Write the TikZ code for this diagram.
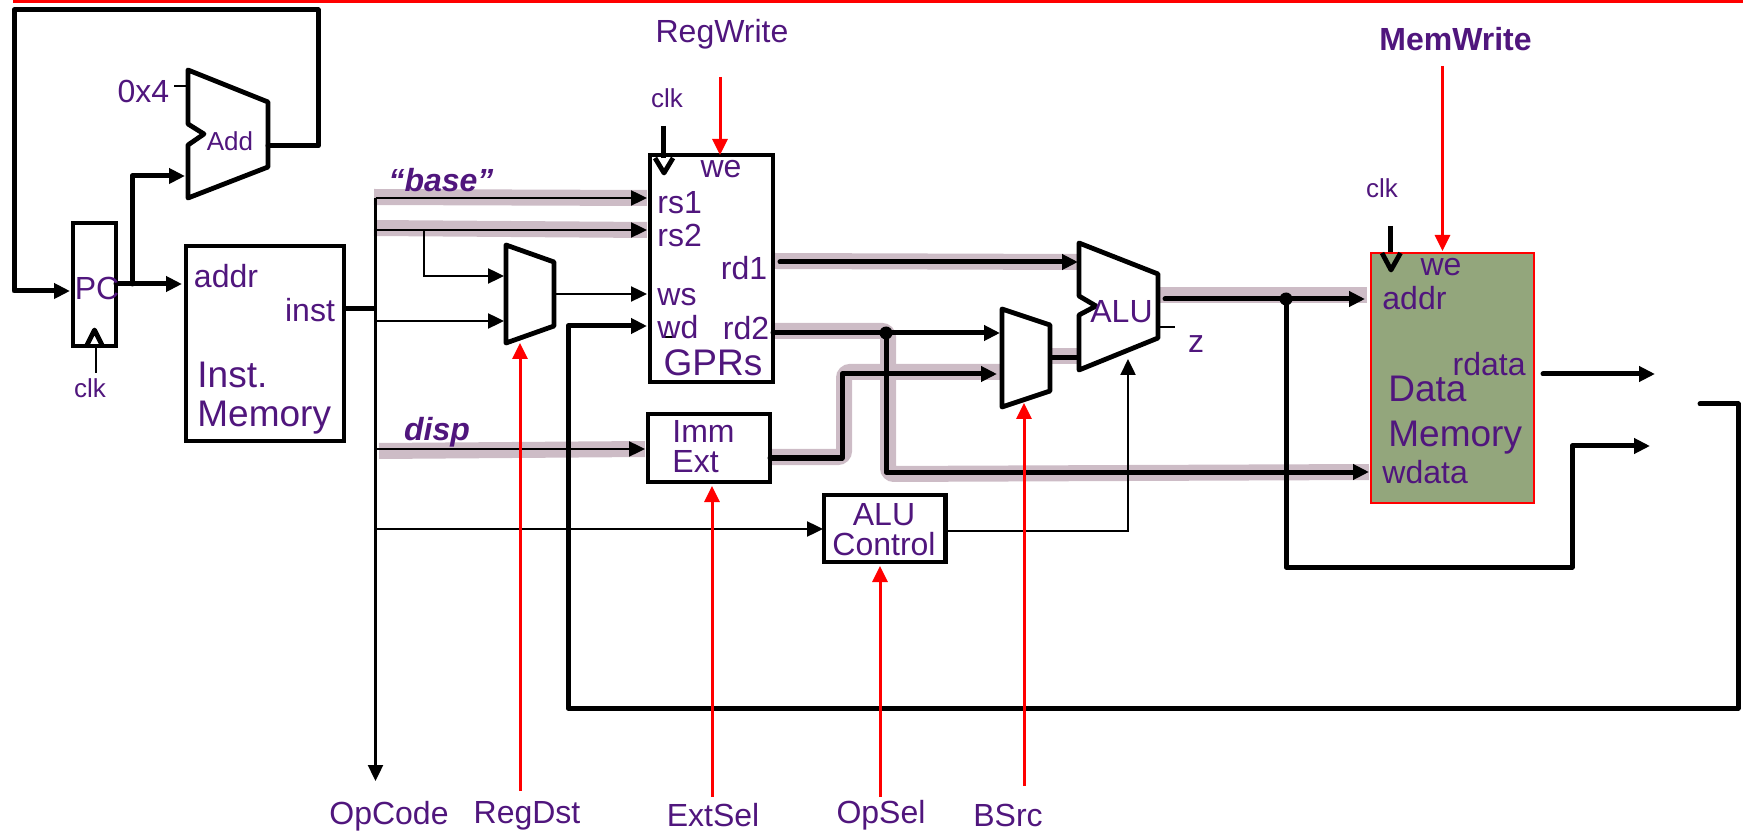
\documentclass[tikz,border=0pt]{standalone}
\usepackage{fontspec}
\setmainfont{Liberation Sans}
\usetikzlibrary{arrows.meta}
\definecolor{labelpurple}{RGB}{80,22,125}
\definecolor{busshade}{RGB}{205,188,198}
\definecolor{memgreen}{RGB}{147,166,124}
\begin{document}
\begin{tikzpicture}[
    x=0.5pt,
    y=-0.5pt,
    >={Triangle[length=8pt,width=7.5pt]},
    block/.style={
        draw=black,
        line width=2.4pt,
        rectangle,
        outer sep=0pt,
        inner sep=0pt
    },
    unit/.style={
        draw=black,
        line width=2.4pt,
        line join=round,
        fill=white
    },
    wire/.style={
        draw=black,
        line width=2.5pt,
        line join=round,
        line cap=round
    },
    thinwire/.style={
        draw=black,
        line width=1.2pt
    },
    ctrl/.style={
        draw=red,
        line width=1.5pt
    },
    shade/.style={
        draw=busshade,
        line width=8pt,
        rounded corners=3pt
    },
    joint/.style={
        circle,
        fill=black,
        minimum size=6.5pt,
        inner sep=0pt
    },
    lbl/.style={
        text=labelpurple,
        inner sep=0pt,
        font=\fontsize{16}{15}\selectfont
    },
    biglbl/.style={
        lbl,
        font=\fontsize{18.5}{22.3}\selectfont
    },
    smalllbl/.style={
        lbl,
        font=\fontsize{13}{15}\selectfont
    },
    buslbl/.style={
        lbl,
        font=\fontsize{16}{15}\selectfont\bfseries\itshape
    }
]
\useasboundingbox (0,0) rectangle (1743,833);

% Ports
\coordinate (redL) at (13,1);
\coordinate (redR) at (1743,1);
\coordinate (pcin) at (70,291);
\coordinate (fbA) at (14,291);
\coordinate (fbB) at (14,10);
\coordinate (fbC) at (318,10);
\coordinate (fbD) at (318,146);
\coordinate (addout) at (268,146);
\coordinate (pcout) at (116,284);
\coordinate (pcbr) at (132,284);
\coordinate (pcup) at (132,176);
\coordinate (addin) at (185,176);
\coordinate (imemin) at (182,284);
\coordinate (instout) at (344,309);
\coordinate (businst) at (375.5,309);
\coordinate (bustop) at (375.5,198);
\coordinate (opcode) at (375.5,781);
\coordinate (busrs) at (375.5,230);
\coordinate (busb) at (375.5,321);
\coordinate (busdisp) at (375.5,449);
\coordinate (busctl) at (375.5,529);
\coordinate (rsone) at (647,198);
\coordinate (rstwo) at (647,230);
\coordinate (rsbr) at (424,230);
\coordinate (rsdn) at (424,276);
\coordinate (muxa) at (504,276);
\coordinate (muxb) at (504,321);
\coordinate (muxout) at (554,294);
\coordinate (ws) at (647,294);
\coordinate (wd) at (647,326);
\coordinate (wdA) at (568,326);
\coordinate (wdB) at (568,708);
\coordinate (wdC) at (1738,708);
\coordinate (wdD) at (1738,404);
\coordinate (wdE) at (1700,404);
\coordinate (rdone) at (780,262);
\coordinate (alua) at (1078,262);
\coordinate (rdtwo) at (773,333);
\coordinate (brA) at (886,333);
\coordinate (brB) at (1000,333);
\coordinate (brC) at (886,472);
\coordinate (wdata) at (1369,472);
\coordinate (immout) at (770,458);
\coordinate (immA) at (842,458);
\coordinate (immB) at (842,374);
\coordinate (brD) at (997,374);
\coordinate (disp) at (645,449);
\coordinate (ctlin) at (823,529);
\coordinate (ctlout) at (945,531);
\coordinate (ctlA) at (1128,531);
\coordinate (ctlB) at (1128,359);
\coordinate (bout) at (1050,358);
\coordinate (alub) at (1079,358);
\coordinate (aluout) at (1165,299);
\coordinate (addr) at (1365,299);
\coordinate (jmp) at (1286,299);
\coordinate (jmpA) at (1286,567);
\coordinate (jmpB) at (1572,567);
\coordinate (jmpC) at (1572,446);
\coordinate (jmpD) at (1650,446);
\coordinate (rdata) at (1543,374);
\coordinate (rdataD) at (1655,374);

% Bus shading
\draw[shade] (374,197) -- (rsone);
\draw[shade] (374,228) -- (rstwo);
\draw[shade] (379,451) -- (disp);
\draw[shade] (775,261) -- (alua);
\draw[shade] (773,331) -- (888,331) -- (888,474) -- (wdata);
\draw[shade] (770,457) -- (844,457) -- (844,372) -- (1000,372);
\draw[shade] (1050,356) -- (1080,356);
\draw[shade] (1158,295) -- (1367,295);

% Blocks
\node[block, minimum width=21.5pt, minimum height=61.5pt] (pc) at (94.5,284.5) {};
\node[block, minimum width=79pt, minimum height=97.5pt] (imem) at (265,343.5) {};
\node[block, minimum width=61.5pt, minimum height=113.5pt] (gpr) at (711.5,268.5) {};
\node[block, minimum width=61pt, minimum height=34pt] (immext) at (709,448) {};
\node[block, minimum width=60.75pt, minimum height=33.5pt] (aluctl) at (884.75,528.5) {};
\node[rectangle, draw=red, line width=1pt, fill=memgreen, minimum width=81.3pt, minimum height=125.2pt, inner sep=0pt] (dmem) at (1452.3,377.8) {};

% Datapath units
\draw[unit] (188,70) -- (268,102) -- (268,167) -- (188,198) -- (188,145) -- (204,134) -- (188,124) -- cycle;
\draw[unit] (506,245) -- (554,262) -- (554,326) -- (506,343) -- cycle;
\draw[unit] (1002,309) -- (1050,325) -- (1050,391) -- (1002,407) -- cycle;
\draw[unit] (1079,243) -- (1158,274) -- (1158,338) -- (1079,370) -- (1079,315) -- (1096,306) -- (1079,296) -- cycle;

% Clock marks
\draw[unit, fill=none] (86,347) -- (94.5,330) -- (103,347);
\draw[unit, fill=none] (655,158) -- (664,173) -- (673,158);
\draw[unit, fill=none] (1382,253) -- (1391,270) -- (1400.5,253);
\coordinate (clkPC) at (96,347);
\coordinate (clkPCb) at (96,373);
\coordinate (clkG) at (663.5,126);
\coordinate (clkGb) at (663.5,158);
\coordinate (clkM) at (1390.5,226);
\coordinate (clkMb) at (1390.5,252);
\draw[thinwire] (clkPC) -- (clkPCb);
\draw[wire, line cap=butt] (clkG) -- (clkGb);
\draw[wire, line cap=butt] (clkM) -- (clkMb);

% Wires
\draw[wire, ->] (addout) -- (fbD) -- (fbC) -- (fbB) -- (fbA) -- (pcin);
\draw[wire, ->] (pcout) -- (imemin);
\draw[wire, ->] (pcbr) -- (pcup) -- (addin);
\draw[wire, line cap=butt] (instout) -- (businst);
\draw[thinwire, ->] (bustop) -- (opcode);
\draw[thinwire, ->] (bustop) -- (rsone);
\draw[thinwire, ->] (busrs) -- (rstwo);
\draw[thinwire, ->] (rsbr) -- (rsdn) -- (muxa);
\draw[thinwire, ->] (busb) -- (muxb);
\draw[thinwire, ->] (muxout) -- (ws);
\draw[thinwire, ->] (busdisp) -- (disp);
\draw[thinwire, ->] (busctl) -- (ctlin);
\draw[thinwire, ->] (ctlout) -- (ctlA) -- (ctlB);
\draw[wire, ->] (wdE) -- (wdD) -- (wdC) -- (wdB) -- (wdA) -- (wd);
\draw[wire, ->] (rdone) -- (alua);
\draw[wire, ->] (rdtwo) -- (brB);
\draw[wire, ->] (brA) -- (brC) -- (wdata);
\draw[wire, ->] (immout) -- (immA) -- (immB) -- (brD);
\draw[wire, line cap=butt] (bout) -- (alub);
\draw[wire, ->] (aluout) -- (addr);
\draw[wire, ->] (jmp) -- (jmpA) -- (jmpB) -- (jmpC) -- (jmpD);
\draw[wire, ->] (rdata) -- (rdataD);
\node[joint] (jointB) at (brA) {};
\node[joint] (jointJ) at (jmp) {};

% Stubs
\coordinate (fourA) at (174,86);
\coordinate (fourB) at (188,86);
\coordinate (zA) at (1160,327);
\coordinate (zB) at (1175,327);
\coordinate (wdtA) at (662,337);
\coordinate (wdtB) at (675,337);
\draw[thinwire] (fourA) -- (fourB);
\draw[thinwire] (zA) -- (zB);
\draw[thinwire] (wdtA) -- (wdtB);

% Control lines
\draw[ctrl, line width=2pt] (redL) -- (redR);
\coordinate (regwriteT) at (720,77);
\coordinate (regwriteB) at (720,155);
\coordinate (memwriteT) at (1442.5,66);
\coordinate (memwriteB) at (1442.5,251);
\coordinate (regdstT) at (520,343);
\coordinate (regdstB) at (520,791);
\coordinate (extselT) at (712,486);
\coordinate (extselB) at (712,797);
\coordinate (opselT) at (880,566);
\coordinate (opselB) at (880,797);
\coordinate (bsrcT) at (1024,403);
\coordinate (bsrcB) at (1024,786);
\draw[ctrl, ->] (regwriteT) -- (regwriteB);
\draw[ctrl, ->] (memwriteT) -- (memwriteB);
\draw[ctrl, ->] (regdstB) -- (regdstT);
\draw[ctrl, ->] (extselB) -- (extselT);
\draw[ctrl, ->] (opselB) -- (opselT);
\draw[ctrl, ->] (bsrcB) -- (bsrcT);

% Labels
\node[lbl] (lfour) at (143.5,91) {0x4};
\node[smalllbl] (ladd) at (230,141) {Add};
\node[lbl] (lpc) at (97,288) {PC};
\node[smalllbl] (lclk) at (90,388) {clk};
\node[lbl] (laddr) at (226,276) {addr};
\node[lbl] (linst) at (310,310) {inst};
\node[biglbl, anchor=west, align=left, font=\fontsize{18.5}{19.5}\selectfont] (limem) at (197,398) {Inst.\\Memory};
\node[buslbl] (lbase) at (441,180) {“base”};
\node[buslbl] (ldisp) at (437,432) {disp};
\node[smalllbl] (lclkg) at (667,98) {clk};
\node[lbl] (lregwrite) at (722,34) {RegWrite};
\node[lbl] (lwe) at (721,169) {we};
\node[lbl, anchor=west] (lrsone) at (657,203) {rs1};
\node[lbl, anchor=west] (lrstwo) at (657,235) {rs2};
\node[lbl, anchor=west] (lws) at (657,297) {ws};
\node[lbl, anchor=west] (lwd) at (657,327) {wd};
\node[lbl] (lrdone) at (744,268) {rd1};
\node[lbl] (lrdtwo) at (746,328) {rd2};
\node[biglbl] (lgpr) at (713,363) {GPRs};
\node[lbl, anchor=west, align=left] (limm) at (672,447) {Imm\\Ext};
\node[lbl, align=center] (lctl) at (884,530) {ALU\\Control};
\node[lbl] (lalu) at (1121.5,312) {ALU};
\node[lbl] (lz) at (1196,344) {z};
\node[lbl, font=\fontsize{16}{15}\selectfont\bfseries] (lmemwrite) at (1455.5,39) {MemWrite};
\node[smalllbl] (lclkm) at (1382,188) {clk};
\node[lbl] (lwem) at (1441,267) {we};
\node[lbl, anchor=west] (laddrm) at (1382,298) {addr};
\node[lbl, anchor=east] (lrdata) at (1526,364) {rdata};
\node[biglbl, anchor=west, align=left] (ldmem) at (1388,415) {Data\\Memory};
\node[lbl, anchor=west] (lwdata) at (1382,472) {wdata};
\node[lbl] (lopcode) at (389,816) {OpCode};
\node[lbl] (lregdst) at (527,816) {RegDst};
\node[lbl] (lextsel) at (713,815) {ExtSel};
\node[lbl] (lopsel) at (881,815) {OpSel};
\node[lbl] (lbsrc) at (1008,815) {BSrc};

\end{tikzpicture}
\end{document}
